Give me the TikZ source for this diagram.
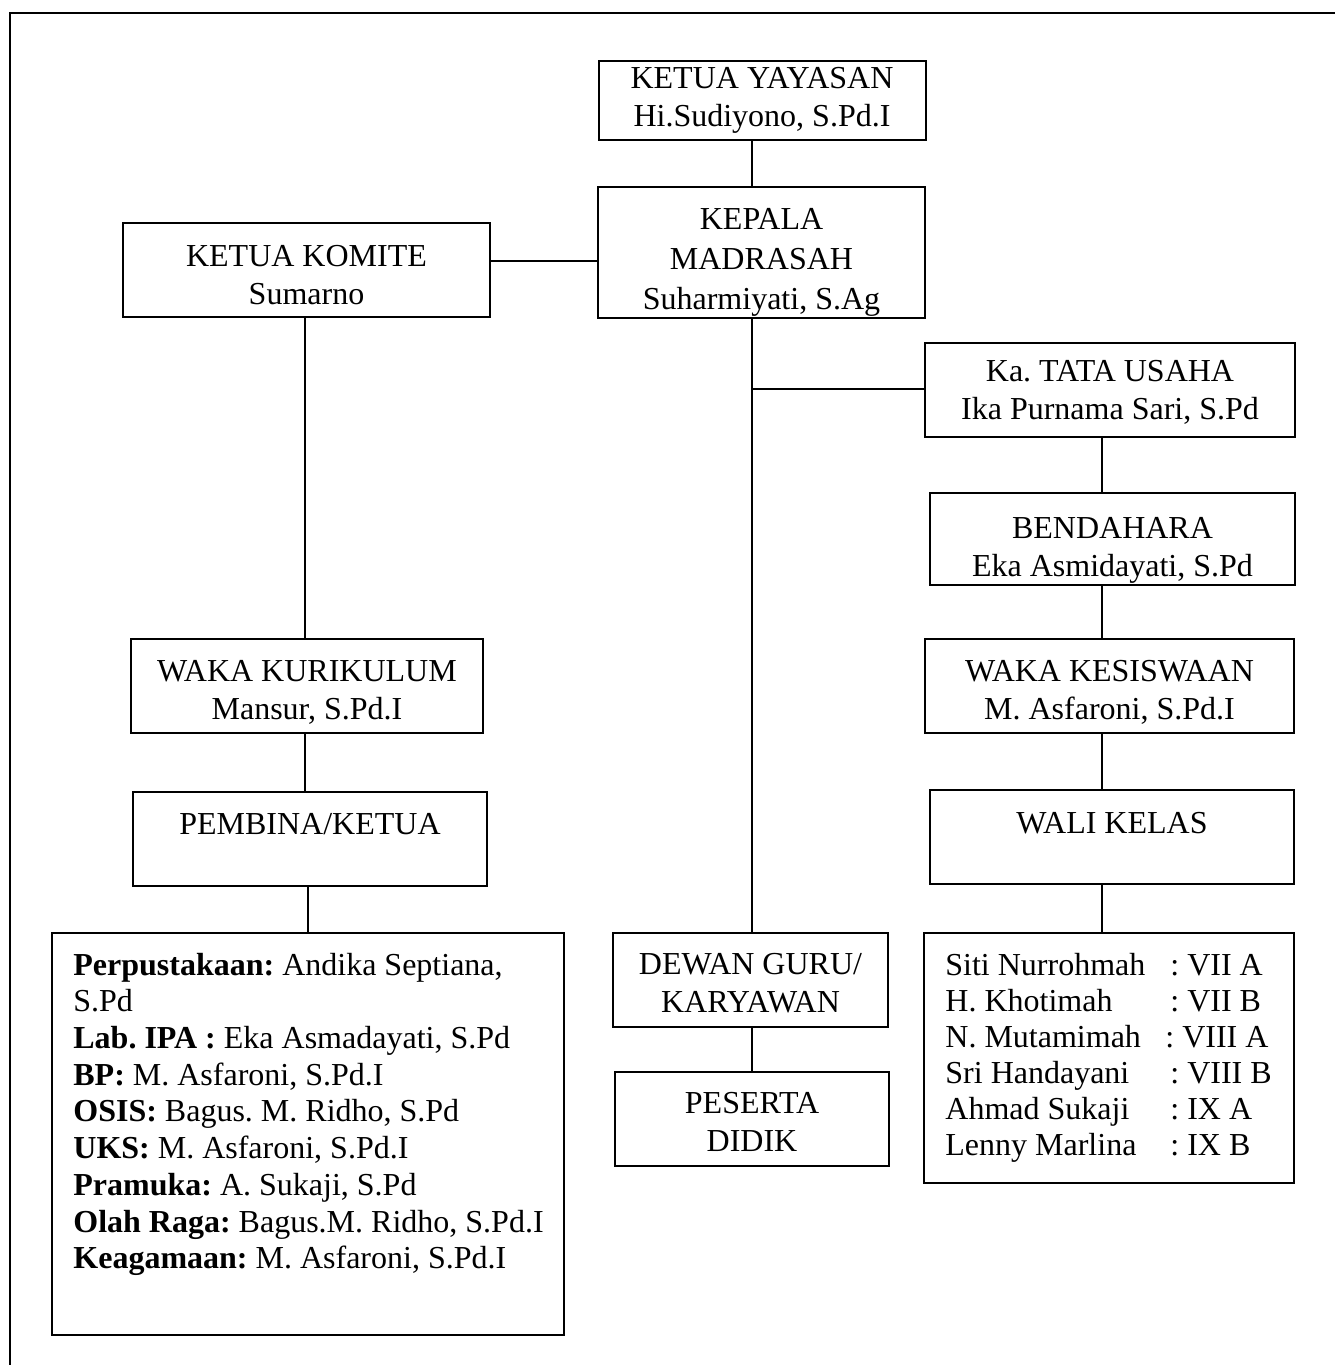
\documentclass[tikz,border=0pt]{standalone}
\usepackage{fontspec}
\setmainfont{Liberation Serif}
\usetikzlibrary{fit}
\frenchspacing
\begin{document}
\begin{tikzpicture}[x=0.5pt,y=-0.5pt,
  box/.style={draw, line width=1pt, inner sep=0pt},
  txt/.style={inner sep=0pt, align=center, anchor=north, font=\fontsize{16}{19}\selectfont},
  lst/.style={inner sep=0pt, align=left, anchor=north west, font=\fontsize{16}{18.35}\selectfont},
  con/.style={line width=1pt}]
\useasboundingbox (0,0) rectangle (1335,1365);
% outer frame
\draw[line width=1.3pt] (10,1365) -- (10,13) -- (1335,13);
% boxes
\node[box, fit={(599,61) (926,140)}] (yay) {};
\node[box, fit={(598,187) (925,318)}] (kep) {};
\node[box, fit={(123,223) (490,317)}] (kom) {};
\node[box, fit={(925,343) (1295,437)}] (tu) {};
\node[box, fit={(930,493) (1295,585)}] (ben) {};
\node[box, fit={(925,639) (1294,733)}] (kes) {};
\node[box, fit={(930,790) (1294,884)}] (wk) {};
\node[box, fit={(131,639) (483,733)}] (kur) {};
\node[box, fit={(133,792) (487,886)}] (pem) {};
\node[box, fit={(52,933) (564,1335)}] (lst) {};
\node[box, fit={(613,933) (888,1027)}] (dg) {};
\node[box, fit={(615,1072) (889,1166)}] (pd) {};
\node[box, fit={(924,933) (1294,1183)}] (wl) {};
% texts
\node[txt] (yayT) at (762,66.5) {KETUA YAYASAN\\Hi.Sudiyono, S.Pd.I};
\node[txt, font=\fontsize{16}{20}\selectfont] (kepT) at (761.5,207.5) {KEPALA\\MADRASAH\\Suharmiyati, S.Ag};
\node[txt] (komT) at (306.5,244.5) {KETUA KOMITE\\Sumarno};
\node[txt] (tuT) at (1110,359.5) {Ka. TATA USAHA\\Ika Purnama Sari, S.Pd};
\node[txt] (benT) at (1112.5,516.5) {BENDAHARA\\Eka Asmidayati, S.Pd};
\node[txt] (kesT) at (1109.5,659.5) {WAKA KESISWAAN\\M. Asfaroni, S.Pd.I};
\node[txt] (wkT) at (1112,811.5) {WALI KELAS};
\node[txt] (kurT) at (307,659.5) {WAKA KURIKULUM\\Mansur, S.Pd.I};
\node[txt] (pemT) at (310,812.5) {PEMBINA/KETUA};
\node[txt] (dgT) at (750.5,952.5) {DEWAN GURU/\\KARYAWAN};
\node[txt] (pdT) at (752,1091.5) {PESERTA\\DIDIK};
\node[lst] (lstT) at (73,952.5) {\textbf{Perpustakaan:} Andika Septiana,\\S.Pd\\\textbf{Lab. IPA :} Eka Asmadayati, S.Pd\\\textbf{BP:} M. Asfaroni, S.Pd.I\\\textbf{OSIS:} Bagus. M. Ridho, S.Pd\\\textbf{UKS:} M. Asfaroni, S.Pd.I\\\textbf{Pramuka:} A. Sukaji, S.Pd\\\textbf{Olah Raga:} Bagus.M. Ridho, S.Pd.I\\\textbf{Keagamaan:} M. Asfaroni, S.Pd.I};
\node[lst, font=\fontsize{16}{18}\selectfont] (wlT) at (945,952.5) {%
\makebox[112.5pt][l]{Siti Nurrohmah}: VII A\\
\makebox[112.5pt][l]{H. Khotimah}: VII B\\
\makebox[110pt][l]{N. Mutamimah}: VIII A\\
\makebox[112.5pt][l]{Sri Handayani}: VIII B\\
\makebox[112.5pt][l]{Ahmad Sukaji}: IX A\\
\makebox[112.5pt][l]{Lenny Marlina}: IX B};
% connector guides
\coordinate (sp) at (752,0);
\coordinate (rc) at (1102,0);
\coordinate (lc) at (305,0);
\coordinate (lc2) at (308,0);
\coordinate (h1) at (0,261);
\coordinate (h2) at (0,389);
% connectors
\draw[con] (yay.south -| sp) -- (kep.north -| sp);
\draw[con] (kom.east |- h1) -- (kep.west |- h1);
\draw[con] (kep.south -| sp) -- (dg.north -| sp);
\draw[con] (sp |- h2) -- (tu.west |- h2);
\draw[con] (dg.south -| sp) -- (pd.north -| sp);
\draw[con] (tu.south -| rc) -- (ben.north -| rc);
\draw[con] (ben.south -| rc) -- (kes.north -| rc);
\draw[con] (kes.south -| rc) -- (wk.north -| rc);
\draw[con] (wk.south -| rc) -- (wl.north -| rc);
\draw[con] (kom.south -| lc) -- (kur.north -| lc);
\draw[con] (kur.south -| lc) -- (pem.north -| lc);
\draw[con] (pem.south -| lc2) -- (lst.north -| lc2);
\end{tikzpicture}
\end{document}
